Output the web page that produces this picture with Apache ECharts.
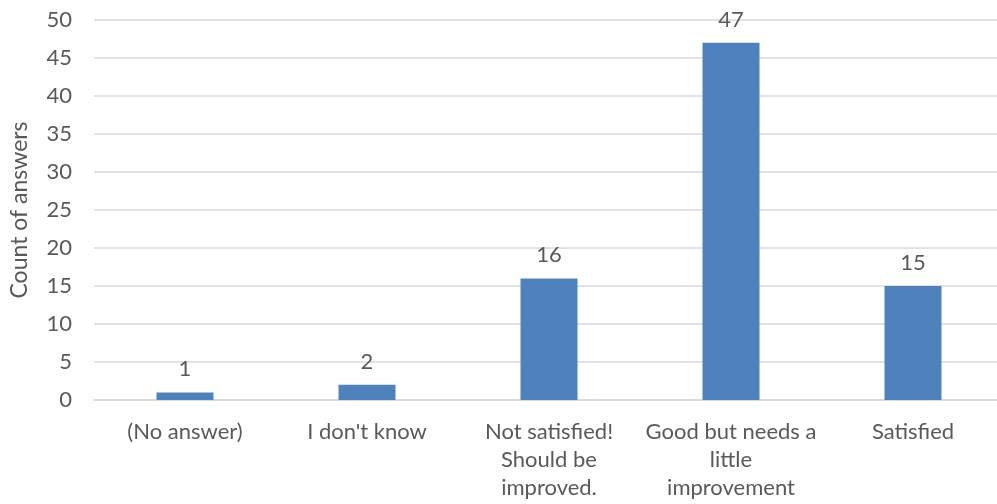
<!DOCTYPE html>
<html>
<head>
<meta charset="utf-8">
<style>
  html, body { margin: 0; padding: 0; background: #fff; }
  #chart { width: 997px; height: 504px; }
</style>
<script src="https://cdn.jsdelivr.net/npm/echarts@6/dist/echarts.min.js"></script>
</head>
<body>
<div id="chart"></div>
<script>
// Survey answers per response option
const categories = [
  '(No answer)',
  "I don't know",
  'Not satisfied!\nShould be\nimproved.',
  'Good but needs a\nlittle\nimprovement',
  'Satisfied'
];
const counts = [1, 2, 16, 47, 15];
const yTicks = { min: 0, max: 50, interval: 5 };

const textColor = '#595959';
const gridColor = '#d9d9d9';
const font = 'Lato, "Open Sans", sans-serif';

const chart = echarts.init(document.getElementById('chart'));
chart.setOption({
  animation: false,
  // plot area runs slightly past the right edge of the canvas
  grid: {
    left: 94, width: 910, top: 20, height: 380,
    containLabel: false, outerBoundsMode: 'none'
  },
  xAxis: {
    type: 'category',
    data: categories,
    axisLine: { show: true, lineStyle: { color: gridColor, width: 1.5 } },
    axisTick: { show: false },
    axisLabel: {
      color: textColor, fontFamily: font, fontSize: 22,
      lineHeight: 28, margin: 18, interval: 0, align: 'center'
    }
  },
  yAxis: {
    type: 'value',
    min: yTicks.min, max: yTicks.max, interval: yTicks.interval,
    name: 'Count of answers',
    nameLocation: 'middle',
    nameGap: 63,
    nameTextStyle: { color: textColor, fontFamily: font, fontSize: 23 },
    axisLine: { show: false },
    axisTick: { show: false },
    axisLabel: { color: textColor, fontFamily: font, fontSize: 22, margin: 22 },
    splitLine: { lineStyle: { color: gridColor, width: 1.5 } }
  },
  series: [{
    type: 'bar',
    data: counts,
    barWidth: 57,
    itemStyle: { color: '#4f81bd' },
    label: {
      show: true, position: 'top', distance: 12,
      color: textColor, fontFamily: font, fontSize: 22
    }
  }]
});
</script>
</body>
</html>
